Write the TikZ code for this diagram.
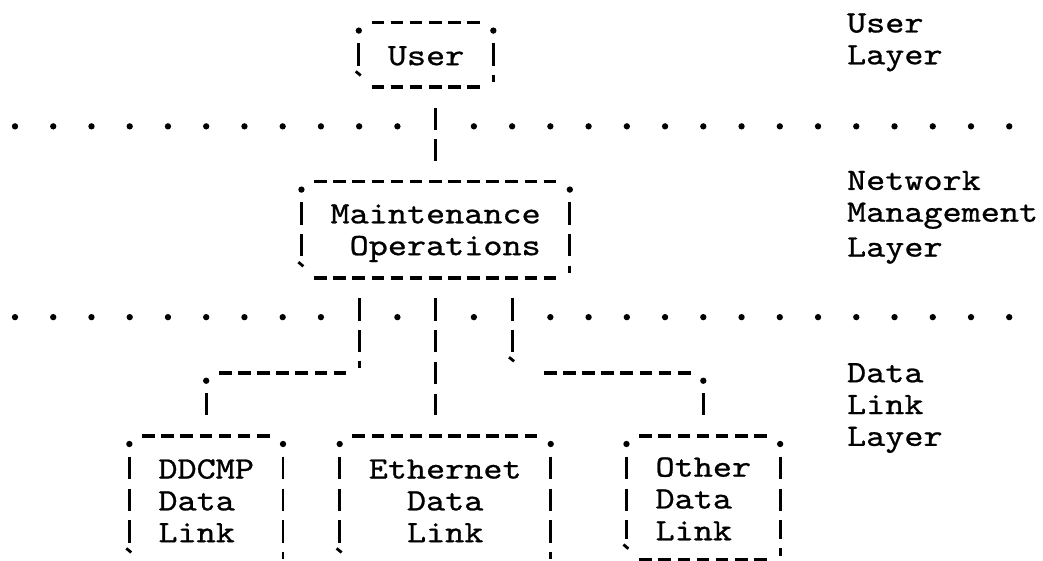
\documentclass[tikz,border=0pt]{standalone}
\usepackage{fontspec}
\setmonofont{lmmono10-regular.otf}[FakeStretch=1.17, FakeBold=0.8]
\usepackage{tikz}
\usetikzlibrary{calc}
\newcommand\rowstrut{\rule{0pt}{14.8pt}\rule[-3pt]{0pt}{3pt}}
\tikzset{
    tyfont/.style={font=\ttfamily\fontsize{17.7pt}{18.1pt}\selectfont},
    hbars/.style={draw, line width=2pt, dash pattern=on 7.2pt off 3.68pt, shorten <=7.28pt, shorten >=7.28pt},
    vbars/.style={draw, line width=1.6pt, dash pattern=on 12.67pt off 5.43pt, shorten <=11.76pt, shorten >=11.76pt},
    tymark/.style={draw, line width=1.6pt},
    tybox/.style 2 args={tyfont, inner sep=0pt, minimum width=#1*0.3824cm, minimum height=#2*0.636cm},
}
% typewriter frame round a named box
\newcommand\tyframe[1]{%
    \path (#1.north west) edge[hbars] (#1.north east)
          (#1.south west) edge[hbars] (#1.south east)
          (#1.north west) edge[vbars] (#1.south west)
          (#1.north east) edge[vbars] (#1.south east);
    \draw[tymark] ($(#1.south west)+(-0.16,-0.49)$) -- ($(#1.south west)+(0.1,-0.36)$);
    \draw[tymark] ($(#1.south east)+(0,-0.38)$) -- ($(#1.south east)+(0,-0.14)$);
    \fill ($(#1.north west)+(0,0.25)$) circle (1.8pt);
    \fill ($(#1.north east)+(0,0.25)$) circle (1.8pt);
}
\begin{document}
\begin{tikzpicture}[x=0.3824cm, y=-0.636cm]
    \useasboundingbox (-0.7845,-0.7233) rectangle (53.766,16.918);
    % layer rules
    \foreach \c in {0,2,...,52} {
        \ifnum\c=22 \else \fill (\c,3.25) circle (1.8pt); \fi
    }
    \foreach \c in {0,2,...,52} {
        \ifnum\c=18 \else\ifnum\c=22 \else\ifnum\c=26 \else \fill (\c,9.25) circle (1.8pt); \fi\fi\fi
    }

    % boxes
    \node[tybox={7}{2}] (user) at (21.5,1) {\rowstrut User};
    \node[tybox={14}{3}, align=right] (maint) at (22,6.5) {\rowstrut Maintenance\\\rowstrut Operations};
    \node[tybox={8}{4}, align=left] (ddcmp) at (10,15) {\rowstrut DDCMP\\\rowstrut Data\\\rowstrut Link};
    \node[tybox={11}{4}, align=center] (ether) at (22.5,15) {\rowstrut Ethernet\\\rowstrut Data\\\rowstrut Link};
    \node[tybox={8}{3.88}, align=left] (other) at (36,14.94) {\rowstrut Other\\\rowstrut Data\\\rowstrut Link};
    \tyframe{user}
    \tyframe{maint}
    \tyframe{ddcmp}
    \tyframe{ether}
    \tyframe{other}

    % layer names
    \node[tyfont, align=left, anchor=west, inner sep=0pt] (lbuser) at (43.5,0.5) {\rowstrut User\\\rowstrut Layer};
    \node[tyfont, align=left, anchor=west, inner sep=0pt] (lbnet) at (43.5,6) {\rowstrut Network\\\rowstrut Management\\\rowstrut Layer};
    \node[tyfont, align=left, anchor=west, inner sep=0pt] (lblink) at (43.5,12) {\rowstrut Data\\\rowstrut Link\\\rowstrut Layer};

    % connectors
    \path (maint.north |- user.south) edge[vbars] (maint.north);
    \coordinate (kl) at (18,11);
    \coordinate (kr) at (26,11);
    \path (maint.south -| kl) edge[vbars] (kl)
          (kl) edge[hbars] (ddcmp.north |- kl)
          (ddcmp.north |- kl) edge[vbars] (ddcmp.north);
    \path (maint.south) edge[vbars] (maint.south |- ether.north);
    \path (maint.south -| kr) edge[vbars] (kr)
          (kr) edge[hbars, shorten <=18.15pt] (other.north |- kr)
          (other.north |- kr) edge[vbars] (other.north);
    \fill ($(ddcmp.north |- kl)+(0,0.25)$) circle (1.8pt);
    \fill ($(other.north |- kr)+(0,0.25)$) circle (1.8pt);
    \draw[tymark] ($(kl)+(0,-0.38)$) -- ($(kl)+(0,-0.14)$);
    \draw[tymark] ($(kr)+(-0.16,-0.49)$) -- ($(kr)+(0.1,-0.36)$);
\end{tikzpicture}
\end{document}
